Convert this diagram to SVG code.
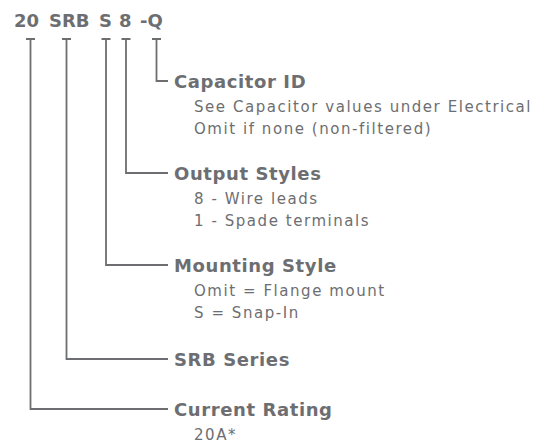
<svg xmlns="http://www.w3.org/2000/svg" width="539" height="443" viewBox="0 0 539 443">
<style>
.t{font-family:"DejaVu Sans","Liberation Sans",sans-serif;fill:#6d6e71}
.title{font-size:18px;font-weight:bold}
.h{font-size:18px;font-weight:bold;letter-spacing:0.6px}
.b{font-size:15px;letter-spacing:1.55px}
.ln{fill:none;stroke:#6d6e71;stroke-width:1.8}
</style>
<rect width="539" height="443" fill="#ffffff"/>
<g id="code">
<text class="t title" y="27.3"><tspan x="14">20</tspan> <tspan x="49">SRB</tspan> <tspan x="99">S</tspan> <tspan x="119">8</tspan> <tspan x="140">-Q</tspan></text>
</g>
<g id="connectors">
<path class="ln" d="M26 39h9M30.5 39V409H168"/>
<path class="ln" d="M62 39h9M66.5 39V359H168"/>
<path class="ln" d="M101.5 39h9M106 39V265H168"/>
<path class="ln" d="M121.5 39h9M126 39V173H168"/>
<path class="ln" d="M152 39h9M156.5 39V81H168"/>
</g>
<g id="capacitor">
<text class="t h" x="174" y="87.5">Capacitor ID</text>
<text class="t b" x="194" y="111.5">See Capacitor values under Electrical</text>
<text class="t b" x="194" y="133.5">Omit if none (non-filtered)</text>
</g>
<g id="output">
<text class="t h" x="174" y="179.5">Output Styles</text>
<text class="t b" x="194" y="203.5">8 - Wire leads</text>
<text class="t b" x="194" y="225.5">1 - Spade terminals</text>
</g>
<g id="mounting">
<text class="t h" x="174" y="271.5">Mounting Style</text>
<text class="t b" x="194" y="295.5">Omit = Flange mount</text>
<text class="t b" x="194" y="317.5">S = Snap-In</text>
</g>
<g id="series">
<text class="t h" x="174" y="365.5">SRB Series</text>
</g>
<g id="current">
<text class="t h" x="174" y="415.5">Current Rating</text>
<text class="t b" x="194" y="439.5">20A*</text>
</g>
</svg>
